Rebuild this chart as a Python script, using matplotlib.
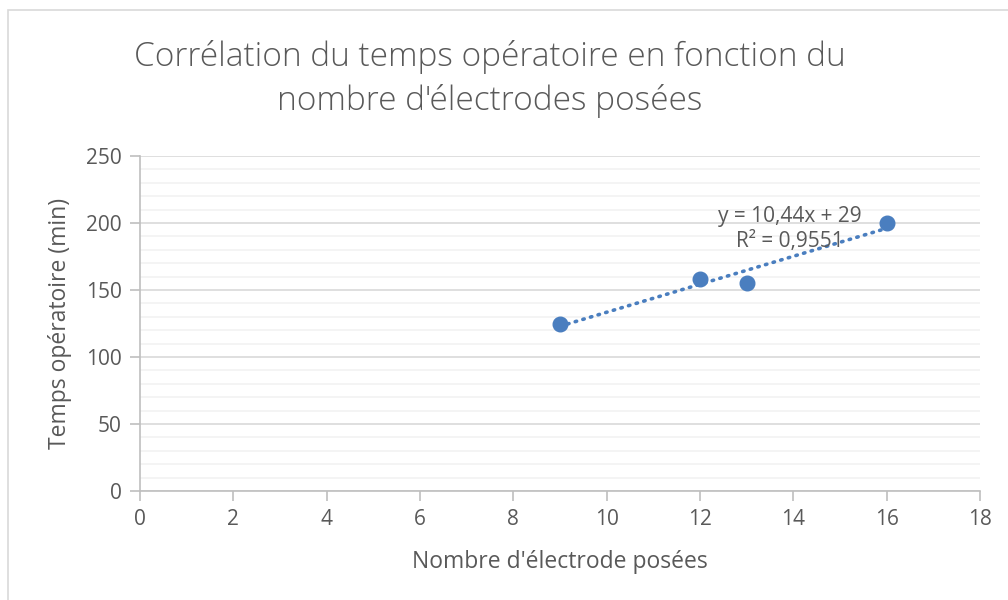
import numpy as np
import matplotlib.pyplot as plt
from matplotlib.patches import Rectangle
from matplotlib.ticker import MultipleLocator

# données
nb_electrodes = [9, 12, 13, 16]
temps_operatoire = [125, 158, 155, 200]

titre = "Corrélation du temps opératoire en fonction du\nnombre d'électrodes posées"
label_x = "Nombre d'électrode posées"
label_y = "Temps opératoire (min)"

bleu = "#4A7EBF"
gris_texte = "#595959"

plt.rcParams['font.family'] = ['Open Sans', 'DejaVu Sans']

fig = plt.figure(figsize=(10.08, 6.0), dpi=100)
ax = fig.add_axes([140 / 1008, 1 - 491 / 600, 840 / 1008, 335 / 600])

# cadre du graphique
fig.patches.append(Rectangle((8 / 1008, -0.05), 1.1, 0.05 + 590 / 600,
                             transform=fig.transFigure, fill=False,
                             edgecolor="#d9d9d9", linewidth=1.2))

x = np.array(nb_electrodes)
y = np.array(temps_operatoire)
pente, ordonnee = np.polyfit(x, y, 1)
r2 = np.corrcoef(x, y)[0, 1] ** 2

xs = np.array([x.min(), x.max()])
ax.plot(xs, pente * xs + ordonnee, linestyle=(0, (0.4, 1.8)), color=bleu,
        linewidth=2.6, dash_capstyle='round', zorder=3)
ax.plot(x, y, 'o', color=bleu, markersize=10.5, zorder=4)

eq = f"y = {pente:.2f}x + {ordonnee:.0f}".replace(".", ",")
r2_txt = f"R² = {r2:.4f}".replace(".", ",")
ax.text(13.93, 195.5, eq + "\n" + r2_txt, ha='center', va='center',
        fontsize=15, color=gris_texte, linespacing=1.2, zorder=5)

ax.set_xlim(0, 18)
ax.set_ylim(0, 250)
ax.xaxis.set_major_locator(MultipleLocator(2))
ax.yaxis.set_major_locator(MultipleLocator(50))
ax.yaxis.set_minor_locator(MultipleLocator(10))

ax.grid(axis='y', which='major', color="#d9d9d9", linewidth=1.2)
ax.grid(axis='y', which='minor', color="#f2f2f2", linewidth=1.2)
ax.set_axisbelow(True)

for s in ['top', 'right']:
    ax.spines[s].set_visible(False)
for s in ['left', 'bottom']:
    ax.spines[s].set_color("#bfbfbf")
    ax.spines[s].set_linewidth(1.2)

ax.tick_params(axis='both', which='major', colors="#bfbfbf", labelcolor=gris_texte,
               labelsize=15, length=7, width=1.2, direction='out', pad=6)
ax.tick_params(axis='y', which='minor', length=0)

ax.set_xlabel(label_x, fontsize=16.5, color=gris_texte, labelpad=14)
ax.set_ylabel(label_y, fontsize=16.5, color=gris_texte, labelpad=10)

fig.text(490 / 1008, 1 - 79 / 600, titre, ha='center', va='center',
         fontsize=24, color=gris_texte, linespacing=1.35, fontweight='light')

fig.savefig("out.png", dpi=100)
